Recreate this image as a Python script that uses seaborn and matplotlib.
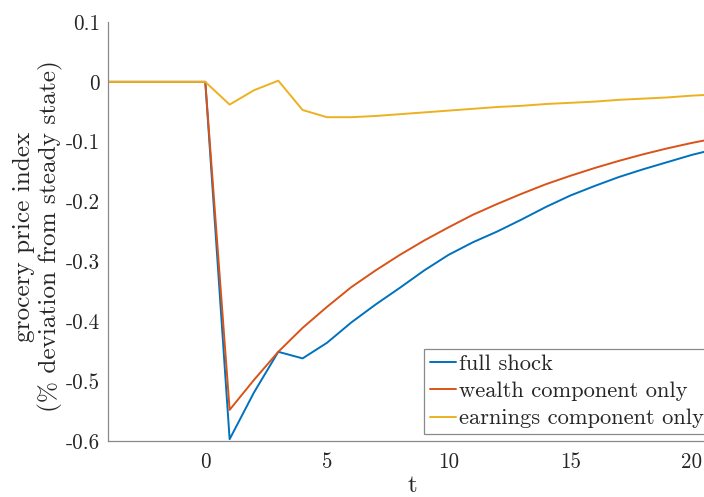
import numpy as np
import pandas as pd
import matplotlib
matplotlib.use("Agg")
import matplotlib.pyplot as plt
import seaborn as sns

# Impulse responses of the grocery price index
t = list(range(-4, 22))
full_shock = [0, 0, 0, 0, 0,
              -0.597, -0.519, -0.451, -0.462, -0.436, -0.402, -0.372, -0.344,
              -0.315, -0.289, -0.268, -0.250, -0.230, -0.209, -0.190, -0.174,
              -0.159, -0.146, -0.134, -0.122, -0.112]
wealth_only = [0, 0, 0, 0, 0,
               -0.548, -0.498, -0.451, -0.411, -0.376, -0.343, -0.315, -0.289,
               -0.265, -0.243, -0.222, -0.204, -0.187, -0.171, -0.157, -0.144,
               -0.132, -0.121, -0.111, -0.102, -0.094]
earnings_only = [0, 0, 0, 0, 0,
                 -0.038, -0.014, 0.002, -0.047, -0.059, -0.059, -0.057, -0.054,
                 -0.051, -0.048, -0.045, -0.042, -0.040, -0.037, -0.035, -0.033,
                 -0.030, -0.028, -0.026, -0.023, -0.021]

series_names = ["full shock", "wealth component only", "earnings component only"]
series_colors = ["#0072BD", "#D95319", "#EDB120"]

x_ticks = [0, 5, 10, 15, 20]
x_tick_labels = ["0", "5", "10", "15", "20"]
y_ticks = [-0.6, -0.5, -0.4, -0.3, -0.2, -0.1, 0.0, 0.1]
y_tick_labels = ["-0.6", "-0.5", "-0.4", "-0.3", "-0.2", "-0.1", "0", "0.1"]

df = pd.DataFrame({
    "t": t * 3,
    "value": full_shock + wealth_only + earnings_only,
    "series": [s for s in series_names for _ in t],
})

sns.set_style("white")
plt.rcParams["font.family"] = ["cmr10", "DejaVu Serif"]
plt.rcParams["axes.unicode_minus"] = False

fig = plt.figure(figsize=(7.04, 4.97), dpi=100)
ax = fig.add_axes([0.1534, 0.1127, 0.8466, 0.8430])

sns.lineplot(data=df, x="t", y="value", hue="series", hue_order=series_names,
             palette=series_colors, linewidth=1.4, legend=False, ax=ax)

ax.set_xlim(-4, 20.5)
ax.set_ylim(-0.6, 0.1)
ax.set_xticks(x_ticks)
ax.set_xticklabels(x_tick_labels)
ax.set_yticks(y_ticks)
ax.set_yticklabels(y_tick_labels)

axis_grey = "#8a8a8a"
text_dark = "#262626"
for side in ["top", "right"]:
    ax.spines[side].set_visible(False)
for side in ["left", "bottom"]:
    ax.spines[side].set_color(axis_grey)
    ax.spines[side].set_linewidth(0.9)
ax.tick_params(direction="in", length=5, width=0.9, color=axis_grey,
               labelsize=15.2, labelcolor=text_dark)
ax.tick_params(axis="y", pad=6)
ax.tick_params(axis="x", pad=8)

ax.set_xlabel("t", fontsize=18, color=text_dark)
ax.xaxis.set_label_coords(0.51, -0.081)
ax.set_ylabel("grocery price index\n(% deviation from steady state)",
              fontsize=18.2, color=text_dark, linespacing=1.15)
ax.yaxis.set_label_coords(-0.076, 0.488)

handles = [plt.Line2D([], [], color=c, linewidth=1.4) for c in series_colors]
leg = fig.legend(handles, series_names, loc="lower left",
                 bbox_to_anchor=(424 / 704, 1 - 434 / 497),
                 bbox_transform=fig.transFigure, fontsize=16.2,
                 frameon=True, fancybox=False, framealpha=1,
                 handlelength=1.15, handletextpad=0.15, labelspacing=0.33,
                 borderpad=0.25, borderaxespad=0)
leg.get_frame().set_edgecolor(axis_grey)
leg.get_frame().set_linewidth(0.9)
for txt in leg.get_texts():
    txt.set_color(text_dark)

fig.savefig("out.png", dpi=100)
